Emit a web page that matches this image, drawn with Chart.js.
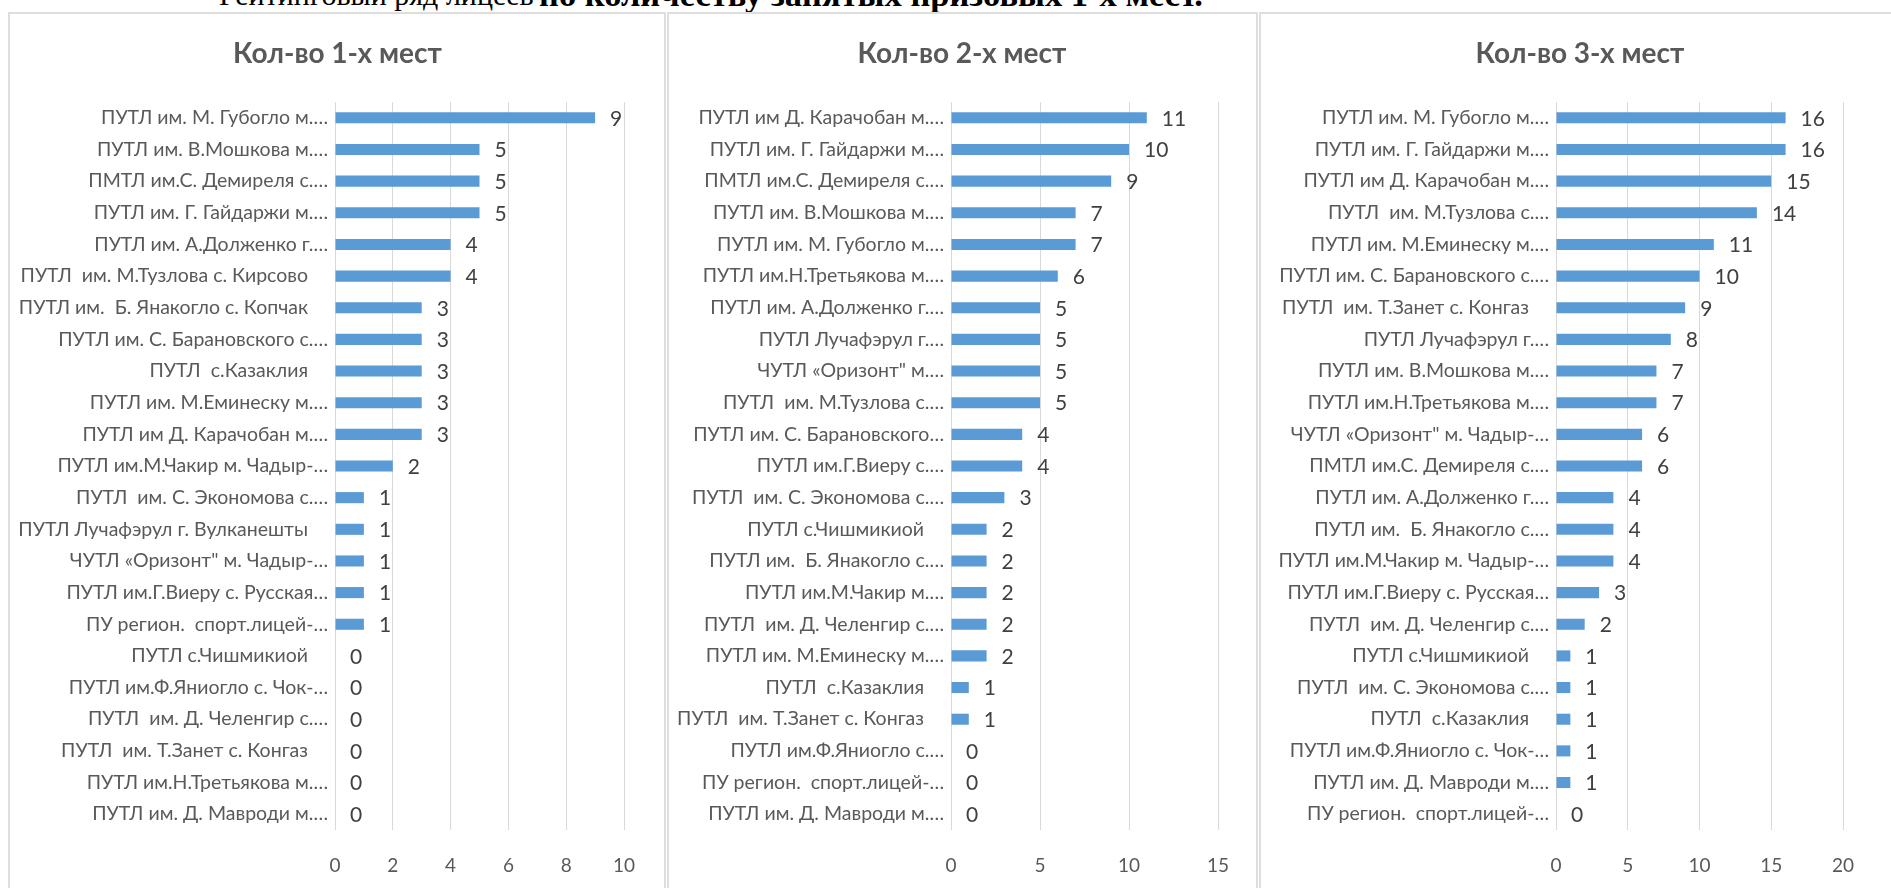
<!DOCTYPE html>
<html>
<head>
<meta charset="utf-8">
<script src="https://cdn.jsdelivr.net/npm/chart.js@4.4.1/dist/chart.umd.min.js"></script>
<style>
  html, body { margin: 0; padding: 0; background: #fff; width: 1891px; height: 888px; overflow: hidden; }
  .heading { position: absolute; font-family: "Liberation Serif", serif; white-space: nowrap; color: #000; }
  .h-reg { left: 219px; top: -20px; font-size: 30px; line-height: 30px; }
  .h-bold { left: 539px; top: -23px; font-size: 34.5px; line-height: 34px; font-weight: bold; }
  .frame { position: absolute; top: 12px; height: 900px; border: 2px solid #dedede; box-sizing: border-box; }
  canvas { position: absolute; top: 12px; }
</style>
</head>
<body>
<div class="heading h-reg">Рейтинговый ряд лицеев</div>
<div class="heading h-bold">по количеству занятых призовых 1-х мест.</div>

<div class="frame" style="left:8px;width:658px"></div>
<div class="frame" style="left:667px;width:591px"></div>
<div class="frame" style="left:1259px;width:660px"></div>

<canvas id="c1" width="655" height="876" style="left:10px"></canvas>
<canvas id="c2" width="590" height="876" style="left:667px"></canvas>
<canvas id="c3" width="640" height="876" style="left:1260px"></canvas>

<script>
// --- данные: 1-е места ---
const firstLabels = [
  'ПУТЛ им. М. Губогло м.…', 'ПУТЛ им. В.Мошкова м.…', 'ПМТЛ им.С. Демиреля с.…', 'ПУТЛ им. Г. Гайдаржи м.…',
  'ПУТЛ им. А.Долженко г.…', 'ПУТЛ  им. М.Тузлова с. Кирсово', 'ПУТЛ им.  Б. Янакогло с. Копчак',
  'ПУТЛ им. С. Барановского с.…', 'ПУТЛ  с.Казаклия', 'ПУТЛ им. М.Еминеску м.…', 'ПУТЛ им Д. Карачобан м.…',
  'ПУТЛ им.М.Чакир м. Чадыр-…', 'ПУТЛ  им. С. Экономова с.…', 'ПУТЛ Лучафэрул г. Вулканешты',
  'ЧУТЛ «Оризонт" м. Чадыр-…', 'ПУТЛ им.Г.Виеру с. Русская…', 'ПУ регион.  спорт.лицей-…',
  'ПУТЛ с.Чишмикиой', 'ПУТЛ им.Ф.Яниогло с. Чок-…', 'ПУТЛ  им. Д. Челенгир с.…',
  'ПУТЛ  им. Т.Занет с. Конгаз', 'ПУТЛ им.Н.Третьякова м.…', 'ПУТЛ им. Д. Мавроди м.…'
];
const firstValues = [9, 5, 5, 5, 4, 4, 3, 3, 3, 3, 3, 2, 1, 1, 1, 1, 1, 0, 0, 0, 0, 0, 0];
const firstTicks = { max: 10, step: 2 };

// --- данные: 2-е места ---
const secondLabels = [
  'ПУТЛ им Д. Карачобан м.…', 'ПУТЛ им. Г. Гайдаржи м.…', 'ПМТЛ им.С. Демиреля с.…', 'ПУТЛ им. В.Мошкова м.…',
  'ПУТЛ им. М. Губогло м.…', 'ПУТЛ им.Н.Третьякова м.…', 'ПУТЛ им. А.Долженко г.…', 'ПУТЛ Лучафэрул г.…',
  'ЧУТЛ «Оризонт" м.…', 'ПУТЛ  им. М.Тузлова с.…', 'ПУТЛ им. С. Барановского…', 'ПУТЛ им.Г.Виеру с.…',
  'ПУТЛ  им. С. Экономова с.…', 'ПУТЛ с.Чишмикиой', 'ПУТЛ им.  Б. Янакогло с.…', 'ПУТЛ им.М.Чакир м.…',
  'ПУТЛ  им. Д. Челенгир с.…', 'ПУТЛ им. М.Еминеску м.…', 'ПУТЛ  с.Казаклия', 'ПУТЛ  им. Т.Занет с. Конгаз',
  'ПУТЛ им.Ф.Яниогло с.…', 'ПУ регион.  спорт.лицей-…', 'ПУТЛ им. Д. Мавроди м.…'
];
const secondValues = [11, 10, 9, 7, 7, 6, 5, 5, 5, 5, 4, 4, 3, 2, 2, 2, 2, 2, 1, 1, 0, 0, 0];
const secondTicks = { max: 15, step: 5 };

// --- данные: 3-и места ---
const thirdLabels = [
  'ПУТЛ им. М. Губогло м.…', 'ПУТЛ им. Г. Гайдаржи м.…', 'ПУТЛ им Д. Карачобан м.…', 'ПУТЛ  им. М.Тузлова с.…',
  'ПУТЛ им. М.Еминеску м.…', 'ПУТЛ им. С. Барановского с.…', 'ПУТЛ  им. Т.Занет с. Конгаз', 'ПУТЛ Лучафэрул г.…',
  'ПУТЛ им. В.Мошкова м.…', 'ПУТЛ им.Н.Третьякова м.…', 'ЧУТЛ «Оризонт" м. Чадыр-…', 'ПМТЛ им.С. Демиреля с.…',
  'ПУТЛ им. А.Долженко г.…', 'ПУТЛ им.  Б. Янакогло с.…', 'ПУТЛ им.М.Чакир м. Чадыр-…', 'ПУТЛ им.Г.Виеру с. Русская…',
  'ПУТЛ  им. Д. Челенгир с.…', 'ПУТЛ с.Чишмикиой', 'ПУТЛ  им. С. Экономова с.…', 'ПУТЛ  с.Казаклия',
  'ПУТЛ им.Ф.Яниогло с. Чок-…', 'ПУТЛ им. Д. Мавроди м.…', 'ПУ регион.  спорт.лицей-…'
];
const thirdValues = [16, 16, 15, 14, 11, 10, 9, 8, 7, 7, 6, 6, 4, 4, 4, 3, 2, 1, 1, 1, 1, 1, 0];
const thirdTicks = { max: 20, step: 5 };

const BAR = '#5b9bd5';
const TEXT = '#595959';
const LABEL = '#404040';
const GRID = '#d9d9d9';
const FONT = 'Lato';

// подписи значений справа от столбцов
const valueLabels = {
  id: 'valueLabels',
  afterDatasetsDraw(chart) {
    const ctx = chart.ctx;
    const values = chart.data.datasets[0].data;
    ctx.save();
    ctx.font = '21px ' + FONT;
    ctx.fillStyle = LABEL;
    ctx.textAlign = 'left';
    ctx.textBaseline = 'middle';
    chart.getDatasetMeta(0).data.forEach((bar, i) => {
      ctx.fillText(String(values[i]), bar.x + 15, bar.y + 1);
    });
    ctx.restore();
  }
};

// заголовок по центру всей рамки (а не области графика)
const panelTitle = {
  id: 'panelTitle',
  afterDraw(chart, args, opts) {
    const ctx = chart.ctx;
    ctx.save();
    ctx.font = 'bold 28px ' + FONT;
    ctx.fillStyle = TEXT;
    ctx.textAlign = 'center';
    ctx.textBaseline = 'middle';
    ctx.fillText(opts.text, chart.width / 2, 42);
    ctx.restore();
  }
};

// axisLeft — где ноль оси X внутри canvas, padRight — отступ справа
function drawPanel(id, title, labels, values, ticks, axisLeft, padRight) {
  return new Chart(document.getElementById(id), {
    type: 'bar',
    data: {
      labels,
      datasets: [{
        data: values,
        backgroundColor: BAR,
        categoryPercentage: 1,
        barPercentage: 0.35
      }]
    },
    options: {
      indexAxis: 'y',
      responsive: false,
      animation: false,
      layout: { padding: { left: 0, right: padRight, top: 90, bottom: 0 } },
      plugins: {
        legend: { display: false },
        tooltip: { enabled: false },
        panelTitle: { text: title }
      },
      scales: {
        x: {
          min: 0,
          max: ticks.max,
          ticks: { stepSize: ticks.step, color: TEXT, font: { family: FONT, size: 19 }, padding: 24 },
          grid: { color: GRID, drawTicks: false },
          border: { display: false },
          afterFit: s => { s.height = 58; }
        },
        y: {
          ticks: {
            autoSkip: false,
            color: TEXT,
            font: { family: FONT, size: 19.5 },
            padding: 7,
            // полные (не обрезанные) названия в Excel стоят чуть левее
            callback: function (v) {
              const l = this.getLabelForValue(v);
              return l.endsWith('…') ? l : l + '    ';
            }
          },
          grid: { display: false, drawTicks: false },
          border: { display: false },
          afterFit: s => { s.width = axisLeft; }
        }
      }
    },
    plugins: [valueLabels, panelTitle]
  });
}

drawPanel('c1', 'Кол-во 1-х мест', firstLabels, firstValues, firstTicks, 325, 41);
drawPanel('c2', 'Кол-во 2-х мест', secondLabels, secondValues, secondTicks, 284, 39);
drawPanel('c3', 'Кол-во 3-х мест', thirdLabels, thirdValues, thirdTicks, 296, 57);
</script>
</body>
</html>
